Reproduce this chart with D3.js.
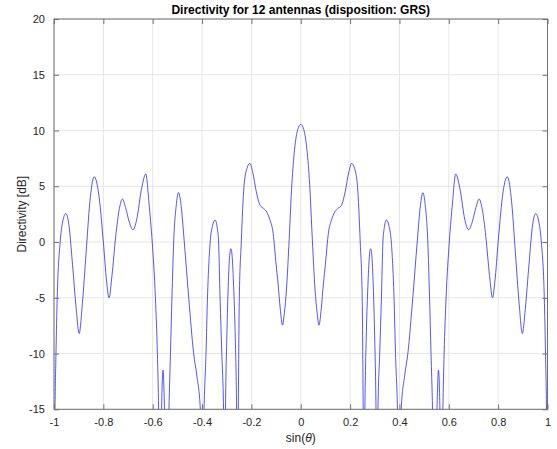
<!DOCTYPE html>
<html>
<head>
<meta charset="utf-8">
<script src="https://cdn.jsdelivr.net/npm/d3@7"></script>
<style>
  body { margin: 0; background: #fff; }
  svg { font-family: "Liberation Sans", Arial, Helvetica, sans-serif; }
</style>
</head>
<body>
<div id="chart"></div>
<script>
// sin(theta) positions (left half then right half)
const sinTheta = [
  -1.000, -0.996, -0.992, -0.987, -0.975, -0.965, -0.952, -0.940, -0.925, -0.910,
  -0.898, -0.885, -0.870, -0.855, -0.837, -0.820, -0.800, -0.787, -0.777, -0.765,
  -0.750, -0.735, -0.723, -0.710, -0.695, -0.680, -0.665, -0.645, -0.628, -0.615,
  -0.602, -0.589, -0.581, -0.576, -0.570, -0.564, -0.558, -0.552, -0.541, -0.534,
  -0.528, -0.522, -0.515, -0.505, -0.495, -0.485, -0.472, -0.454, -0.434, -0.421,
  -0.407, -0.400, -0.392, -0.384, -0.378, -0.367, -0.357, -0.347, -0.338, -0.333,
  -0.327, -0.320, -0.313, -0.309, -0.305, -0.299, -0.294, -0.288, -0.283, -0.278,
  -0.272, -0.266, -0.260, -0.256, -0.253, -0.249, -0.241, -0.230, -0.218, -0.206,
  -0.195, -0.180, -0.165, -0.150, -0.138, -0.125, -0.112, -0.100, -0.092, -0.083,
  -0.074, -0.066, -0.058, -0.047, -0.036, -0.025, -0.012, 0.000,
  0.012, 0.025, 0.036, 0.047, 0.058, 0.066, 0.074, 0.083, 0.092, 0.100,
  0.112, 0.125, 0.138, 0.150, 0.165, 0.180, 0.195, 0.206, 0.218, 0.230,
  0.241, 0.249, 0.253, 0.256, 0.260, 0.266, 0.272, 0.278, 0.283, 0.288,
  0.294, 0.299, 0.305, 0.309, 0.313, 0.320, 0.327, 0.333, 0.338, 0.347,
  0.357, 0.367, 0.378, 0.384, 0.392, 0.400, 0.407, 0.421, 0.434, 0.454,
  0.472, 0.485, 0.495, 0.505, 0.515, 0.522, 0.528, 0.534, 0.541, 0.552,
  0.558, 0.564, 0.570, 0.576, 0.581, 0.589, 0.602, 0.615, 0.628, 0.645,
  0.665, 0.680, 0.695, 0.710, 0.723, 0.735, 0.750, 0.765, 0.777, 0.787,
  0.800, 0.820, 0.837, 0.855, 0.870, 0.885, 0.898, 0.910, 0.925, 0.940,
  0.952, 0.965, 0.975, 0.987, 0.992, 0.996, 1.000
];

// directivity in dB at each position (values below -15 are clipped by the axes)
const directivity = [
  -25, -15, -10, -5, 0, 1.8, 2.55, 1.6, -2, -6,
  -8.2, -5.5, -1, 3.5, 5.85, 4.5, 0, -3.5, -5.0, -3,
  0.5, 3, 3.85, 3.1, 1.8, 1.1, 2, 4.8, 6.1, 3.5,
  0, -5, -10, -15, -25, -15, -11.5, -15, -25, -15,
  -10, -5, 0, 3.2, 4.43, 3.3, 0, -5, -10, -12,
  -15, -25, -15, -10, -5, 0, 1.5, 1.97, 1.2, 0,
  -5, -10, -15, -25, -15, -8, -4, -1.2, -0.6, -1.3,
  -4, -8, -15, -25, -15, -5, 0, 5, 6.6, 7.05,
  6.3, 4.5, 3.3, 3.0, 2.7, 2.0, 0.8, -2, -3.7, -6,
  -7.45, -6.3, -4.3, 0.2, 5.2, 8.3, 10.1, 10.55,
  10.1, 8.3, 5.2, 0.2, -4.3, -6.3, -7.45, -6, -3.7, -2,
  0.8, 2.0, 2.7, 3.0, 3.3, 4.5, 6.3, 7.05, 6.6, 5,
  0, -5, -15, -25, -15, -8, -4, -1.3, -0.6, -1.2,
  -4, -8, -15, -25, -15, -10, -5, 0, 1.2, 1.97,
  1.5, 0, -5, -10, -15, -25, -15, -12, -10, -5,
  0, 3.3, 4.43, 3.2, 0, -5, -10, -15, -25, -15,
  -11.5, -15, -25, -15, -10, -5, 0, 3.5, 6.1, 4.8,
  2, 1.1, 1.8, 3.1, 3.85, 3, 0.5, -3, -5.0, -3.5,
  0, 4.5, 5.85, 3.5, -1, -5.5, -8.2, -6, -2, 1.6,
  2.55, 1.8, 0, -5, -10, -15, -25
];

const xTicks = [-1, -0.8, -0.6, -0.4, -0.2, 0, 0.2, 0.4, 0.6, 0.8, 1];
const yTicks = [-15, -10, -5, 0, 5, 10, 15, 20];

const width = 557, height = 449;
const margin = { top: 19, right: 9.5, bottom: 39.7, left: 54 };
const innerW = width - margin.left - margin.right;
const innerH = height - margin.top - margin.bottom;

const svg = d3.select('#chart').append('svg')
    .attr('width', width)
    .attr('height', height);

const x = d3.scaleLinear().domain([-1, 1]).range([margin.left, margin.left + innerW]);
const y = d3.scaleLinear().domain([-15, 20]).range([margin.top + innerH, margin.top]);

// grid
svg.append('g')
    .selectAll('line')
    .data(xTicks)
    .enter().append('line')
    .attr('x1', d => x(d)).attr('x2', d => x(d))
    .attr('y1', margin.top).attr('y2', margin.top + innerH)
    .attr('stroke', '#e6e6e6').attr('stroke-width', 1);

svg.append('g')
    .selectAll('line')
    .data(yTicks)
    .enter().append('line')
    .attr('x1', margin.left).attr('x2', margin.left + innerW)
    .attr('y1', d => y(d)).attr('y2', d => y(d))
    .attr('stroke', '#e6e6e6').attr('stroke-width', 1);

// curve, clipped to the axes box
svg.append('clipPath').attr('id', 'clip')
    .append('rect')
    .attr('x', margin.left).attr('y', margin.top)
    .attr('width', innerW).attr('height', innerH);

const points = sinTheta.map((s, i) => [s, directivity[i]]);

const line = d3.line()
    .x(d => x(d[0]))
    .y(d => y(d[1]))
    .curve(d3.curveMonotoneX);

svg.append('path')
    .datum(points)
    .attr('clip-path', 'url(#clip)')
    .attr('d', line)
    .attr('fill', 'none')
    .attr('stroke', '#2a2aff')
    .attr('stroke-width', 0.8);

// axes (ticks inward, box on all sides)
const axisColor = '#262626';
const boxColor = '#707070';
const tickLen = 5;
const plainNum = d => String(d);   // hyphen minus like the original

function styleAxis(g) {
    g.select('.domain').remove();
    g.selectAll('.tick line').attr('stroke', boxColor);
    g.selectAll('.tick text').attr('fill', axisColor).style('font-size', '11px');
}

svg.append('g')
    .attr('transform', `translate(0,${margin.top + innerH})`)
    .call(d3.axisBottom(x).tickValues(xTicks).tickSizeInner(-tickLen).tickSizeOuter(0).tickPadding(9)
        .tickFormat(plainNum))
    .call(styleAxis);

svg.append('g')
    .attr('transform', `translate(0,${margin.top})`)
    .call(d3.axisTop(x).tickValues(xTicks).tickSizeInner(-tickLen).tickSizeOuter(0).tickFormat(''))
    .call(styleAxis);

svg.append('g')
    .attr('transform', `translate(${margin.left},0)`)
    .call(d3.axisLeft(y).tickValues(yTicks).tickSizeInner(-tickLen).tickSizeOuter(0).tickPadding(9)
        .tickFormat(plainNum))
    .call(styleAxis);

svg.append('g')
    .attr('transform', `translate(${margin.left + innerW},0)`)
    .call(d3.axisRight(y).tickValues(yTicks).tickSizeInner(-tickLen).tickSizeOuter(0).tickFormat(''))
    .call(styleAxis);

svg.append('rect')
    .attr('x', margin.left).attr('y', margin.top)
    .attr('width', innerW).attr('height', innerH)
    .attr('fill', 'none')
    .attr('stroke', boxColor)
    .attr('stroke-width', 1);

// labels
svg.append('text')
    .attr('x', margin.left + innerW / 2)
    .attr('y', 14)
    .attr('text-anchor', 'middle')
    .style('font-size', '12px')
    .style('font-weight', 'bold')
    .attr('fill', '#000')
    .text('Directivity for 12 antennas (disposition: GRS)');

const xLabel = svg.append('text')
    .attr('x', margin.left + innerW / 2)
    .attr('y', 442)
    .attr('text-anchor', 'middle')
    .style('font-size', '12px')
    .attr('fill', axisColor);
xLabel.append('tspan').text('sin(');
xLabel.append('tspan').style('font-style', 'italic').text('θ');
xLabel.append('tspan').text(')');

svg.append('text')
    .attr('transform', `translate(26,${margin.top + innerH / 2}) rotate(-90)`)
    .attr('text-anchor', 'middle')
    .style('font-size', '12px')
    .attr('fill', axisColor)
    .text('Directivity [dB]');
</script>
</body>
</html>
